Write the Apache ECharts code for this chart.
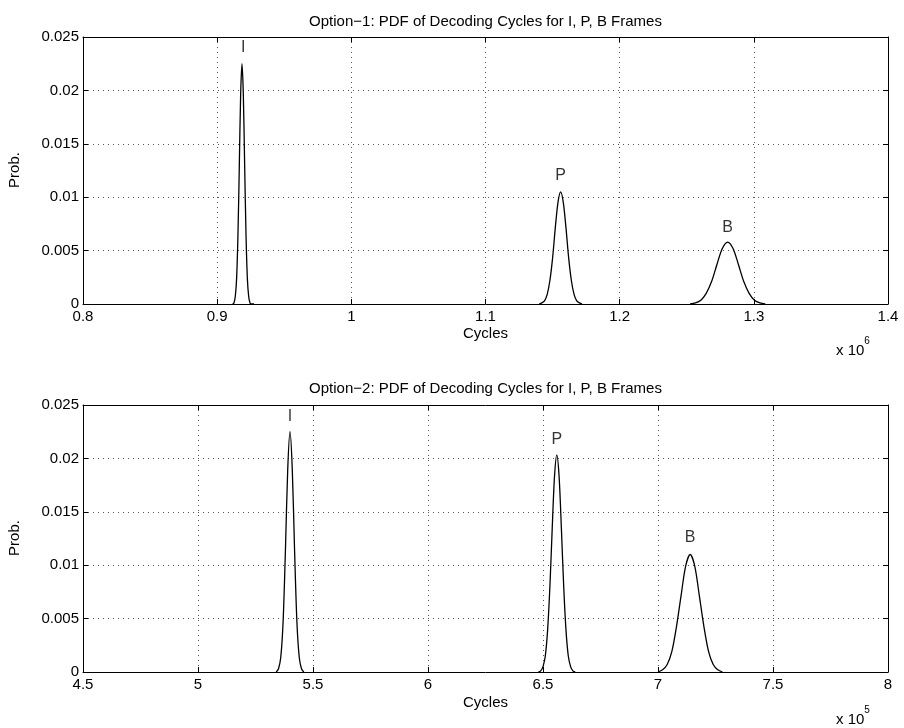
<!DOCTYPE html>
<html><head><meta charset="utf-8">
<script src="https://cdn.jsdelivr.net/npm/echarts@6/dist/echarts.min.js"></script>
<style>html,body{margin:0;padding:0;background:#fff}#c{width:904px;height:728px}</style>
</head><body><div id="c"></div>
<script>
// ---- Data (x in units of 10^6 for option 1, 10^5 for option 2) ----
var titles = ['Option\u22121: PDF of Decoding Cycles for I, P, B Frames', 'Option\u22122: PDF of Decoding Cycles for I, P, B Frames'];
var xTicks1 = [0.8, 0.9, 1, 1.1, 1.2, 1.3, 1.4];
var xTicks2 = [4.5, 5, 5.5, 6, 6.5, 7, 7.5, 8];
var yTicks = [0, 0.005, 0.01, 0.015, 0.02, 0.025];

// Option 1 curves
var opt1_I_x = [0.9115, 0.9125, 0.9135, 0.9145, 0.9155, 0.9165, 0.9175, 0.9185, 0.9195, 0.9205, 0.9215, 0.9225, 0.9235, 0.9245, 0.9255, 0.9265, 0.9275];
var opt1_I_y = [0, 0.0001, 0.0007, 0.0024, 0.0065, 0.0129, 0.0196, 0.0225, 0.0196, 0.0129, 0.0065, 0.0024, 0.0007, 0.0001, 0, 0, 0];
var opt1_P_x = [1.140, 1.142, 1.144, 1.146, 1.148, 1.150, 1.152, 1.154, 1.156, 1.158, 1.160, 1.162, 1.164, 1.166, 1.168, 1.170, 1.172];
var opt1_P_y = [0, 0.0001, 0.0003, 0.0009, 0.0022, 0.0043, 0.0071, 0.0095, 0.0105, 0.0095, 0.0071, 0.0043, 0.0022, 0.0009, 0.0003, 0.0001, 0];
var opt1_B_x = [1.2525, 1.2565, 1.2605, 1.2645, 1.2685, 1.2725, 1.2765, 1.2805, 1.2845, 1.2885, 1.2925, 1.2965, 1.3005, 1.3045, 1.3085];
var opt1_B_y = [0, 0.0001, 0.00036, 0.0010, 0.0021, 0.0037, 0.0052, 0.0058, 0.0052, 0.0037, 0.0021, 0.0010, 0.00036, 0.0001, 0];

// Option 2 curves
var opt2_I_x = [5.34, 5.35, 5.36, 5.37, 5.38, 5.39, 5.40, 5.41, 5.42, 5.43, 5.44, 5.45, 5.46];
var opt2_I_y = [0, 0.0003, 0.0014, 0.0047, 0.0113, 0.0189, 0.0225, 0.0189, 0.0113, 0.0047, 0.0014, 0.0003, 0];
var opt2_P_x = [6.48, 6.49, 6.50, 6.51, 6.52, 6.53, 6.54, 6.55, 6.56, 6.57, 6.58, 6.59, 6.60, 6.61, 6.62, 6.63, 6.64];
var opt2_P_y = [0, 0.0001, 0.0005, 0.0015, 0.0039, 0.0080, 0.0134, 0.0183, 0.0203, 0.0183, 0.0134, 0.0080, 0.0039, 0.0015, 0.0005, 0.0001, 0];
var opt2_B_x = [7.00, 7.02, 7.04, 7.06, 7.08, 7.10, 7.12, 7.14, 7.16, 7.18, 7.20, 7.22, 7.24, 7.26, 7.28];
var opt2_B_y = [0, 0.0002, 0.0007, 0.0019, 0.0042, 0.0071, 0.0099, 0.0110, 0.0099, 0.0071, 0.0042, 0.0019, 0.0007, 0.0002, 0];

// Peak labels
var labels = ['I', 'P', 'B'];
var opt1_label_x = [0.9195, 1.156, 1.2805];
var opt1_label_y = [0.0240, 0.0120, 0.0072];
var opt2_label_x = [5.40, 6.56, 7.14];
var opt2_label_y = [0.0239, 0.0218, 0.0126];

// ---- Chart ----
var FONT = 'Liberation Sans, Arial, Helvetica, sans-serif';
var FS = 15;
var G = [{left: 83, top: 37, width: 805, height: 267}, {left: 83, top: 405, width: 805, height: 267}];

function zip(xs, ys) { return xs.map(function (x, i) { return [x, ys[i]]; }); }
function fmt(v) { return String(Math.round(v * 100000) / 100000); }

var gridLine = {show: true, lineStyle: {color: '#555', type: [1, 4], width: 1}};
function xAxes(gi, ticks) {
  var mn = ticks[0], mx = ticks[ticks.length - 1], iv = ticks[1] - ticks[0];
  return [
    {type: 'value', gridIndex: gi, min: mn, max: mx, interval: iv, position: 'bottom',
     axisLine: {show: true, onZero: false, lineStyle: {color: '#000'}},
     axisTick: {show: true, inside: true, length: 5, lineStyle: {color: '#000'}},
     axisLabel: {color: '#000', fontFamily: FONT, fontSize: FS, margin: 5, formatter: fmt},
     splitLine: gridLine},
    {type: 'value', gridIndex: gi, min: mn, max: mx, interval: iv, position: 'top',
     axisLine: {show: true, onZero: false, lineStyle: {color: '#000'}},
     axisTick: {show: true, inside: true, length: 5, lineStyle: {color: '#000'}},
     axisLabel: {show: false}, splitLine: {show: false}}
  ];
}
function yAxes(gi) {
  return [
    {type: 'value', gridIndex: gi, min: 0, max: 0.025, interval: 0.005, position: 'left',
     axisLine: {show: true, onZero: false, lineStyle: {color: '#000'}},
     axisTick: {show: true, inside: true, length: 5, lineStyle: {color: '#000'}},
     axisLabel: {color: '#000', fontFamily: FONT, fontSize: FS, margin: 4, formatter: fmt},
     splitLine: gridLine},
    {type: 'value', gridIndex: gi, min: 0, max: 0.025, interval: 0.005, position: 'right',
     axisLine: {show: true, onZero: false, lineStyle: {color: '#000'}},
     axisTick: {show: true, inside: true, length: 5, lineStyle: {color: '#000'}},
     axisLabel: {show: false}, splitLine: {show: false}}
  ];
}

function line(xi, yi, xs, ys) {
  return {type: 'line', xAxisIndex: xi, yAxisIndex: yi, data: zip(xs, ys), showSymbol: false,
          symbol: 'none', smooth: 0.3, lineStyle: {color: '#000', width: 1.3}, silent: true, z: 5};
}
function labelSeries(xi, yi, xs, ys) {
  return {type: 'scatter', xAxisIndex: xi, yAxisIndex: yi, symbolSize: 0, silent: true,
          data: xs.map(function (x, i) { return {value: [x, ys[i]], name: labels[i]}; }),
          label: {show: true, position: 'inside', formatter: '{b}', color: '#000', fontFamily: FONT, fontSize: 16}};
}

var chart = echarts.init(document.getElementById('c'), null, {renderer: 'canvas'});
var cx = 83 + 805 / 2;
var txt = function (t, x, y, extra) {
  var s = {text: t, fill: '#000', font: FS + 'px ' + FONT, textAlign: 'center', textVerticalAlign: 'middle'};
  var o = {type: 'text', x: x, y: y, style: s, z: 10};
  if (extra) for (var k in extra) o[k] = extra[k];
  return o;
};
chart.setOption({
  animation: false,
  backgroundColor: '#fff',
  grid: G,
  xAxis: xAxes(0, xTicks1).concat(xAxes(1, xTicks2)),
  yAxis: yAxes(0).concat(yAxes(1)),
  series: [
    line(0, 0, opt1_I_x, opt1_I_y), line(0, 0, opt1_P_x, opt1_P_y), line(0, 0, opt1_B_x, opt1_B_y),
    line(2, 2, opt2_I_x, opt2_I_y), line(2, 2, opt2_P_x, opt2_P_y), line(2, 2, opt2_B_x, opt2_B_y),
    labelSeries(0, 0, opt1_label_x, opt1_label_y),
    labelSeries(2, 2, opt2_label_x, opt2_label_y)
  ],
  graphic: [
    txt(titles[0], cx, 22),
    txt(titles[1], cx, 389),
    txt('Cycles', cx, 334),
    txt('Cycles', cx, 703),
    txt('Prob.', 15, 170, {rotation: Math.PI / 2}),
    txt('Prob.', 15, 538, {rotation: Math.PI / 2}),
    {type: 'text', x: 836, y: 336, z: 10, style: {text: '{a|x 10}{s|6}', fill: '#000', rich: {a: {fontFamily: FONT, fontSize: FS, verticalAlign: 'bottom', padding: [7, 0, 0, 0]}, s: {fontFamily: FONT, fontSize: 10, verticalAlign: 'top'}}}},
    {type: 'text', x: 836, y: 705, z: 10, style: {text: '{a|x 10}{s|5}', fill: '#000', rich: {a: {fontFamily: FONT, fontSize: FS, verticalAlign: 'bottom', padding: [7, 0, 0, 0]}, s: {fontFamily: FONT, fontSize: 10, verticalAlign: 'top'}}}}
  ]
});
</script></body></html>
